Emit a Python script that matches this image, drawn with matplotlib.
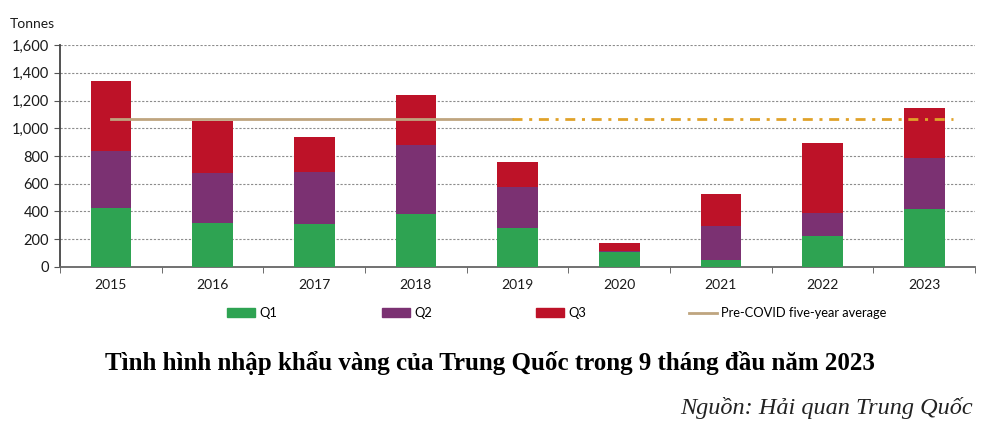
import numpy as np
import matplotlib.pyplot as plt
from matplotlib.patches import Patch
from matplotlib.lines import Line2D

# Du lieu doc tu hinh (tan)
years = ['2015', '2016', '2017', '2018', '2019', '2020', '2021', '2022', '2023']
q1 = [428, 320, 313, 380, 284, 108, 53, 226, 416]
q2 = [407, 356, 370, 496, 289, 7, 243, 161, 373]
q3 = [508, 373, 251, 361, 182, 61, 233, 510, 354]
avg_value = 1066
yticks = [0, 200, 400, 600, 800, 1000, 1200, 1400, 1600]

c_q1 = '#2ea352'
c_q2 = '#7b3172'
c_q3 = '#bd1228'
c_avg = '#bfa57f'
c_avg2 = '#e0a22a'

plt.rcParams['font.family'] = ['Lato', 'DejaVu Sans']

fig = plt.figure(figsize=(9.95, 4.23), dpi=100)
ax = fig.add_axes([0.0603, 0.3688, 0.9197, 0.5248])

x = np.arange(len(years))
b1 = np.array(q1)
b2 = b1 + np.array(q2)
ax.bar(x, q1, width=0.4, color=c_q1, zorder=3)
ax.bar(x, q2, width=0.4, bottom=b1, color=c_q2, zorder=3)
ax.bar(x, q3, width=0.4, bottom=b2, color=c_q3, zorder=3)

# duong trung binh truoc COVID
ax.plot([0, 3.95], [avg_value, avg_value], color=c_avg, lw=2, zorder=4)
ax.plot([3.95, 8.28], [avg_value, avg_value], color=c_avg2, lw=2,
        dashes=(3.6, 2.4, 1.1, 2.4), zorder=4)

ax.set_xlim(-0.5, 8.5)
ax.set_ylim(0, 1600)
ax.set_yticks(yticks)
ax.set_yticklabels([f'{v:,}' for v in yticks], fontsize=10.5, color='#1a1a1a')
ax.yaxis.grid(True, color='#8c8c8c', ls=(0, (2, 1.5)), lw=0.8, zorder=0)

ax.set_xticks(x)
ax.set_xticklabels(years, fontsize=10, color='#1a1a1a')
ax.set_xticks(np.arange(-0.5, 9, 1), minor=True)
ax.tick_params(axis='x', which='major', length=0, pad=9)
ax.tick_params(axis='x', which='minor', length=4, color='#555555', direction='out')
ax.tick_params(axis='y', length=4, color='#555555', direction='out', pad=4)

for s in ['top', 'right']:
    ax.spines[s].set_visible(False)
ax.spines['left'].set_color('#444444')
ax.spines['left'].set_linewidth(1.3)
ax.spines['bottom'].set_color('#666666')
ax.spines['bottom'].set_linewidth(1.3)

fig.text(0.01, 0.943, 'Tonnes', fontsize=10, color='#1a1a1a', ha='left', va='center')

# chu giai
handles = [Patch(color=c_q1), Patch(color=c_q2), Patch(color=c_q3),
           Line2D([], [], color=c_avg, lw=2)]
labels = ['Q1', 'Q2', 'Q3', 'Pre-COVID five-year average']
xs = [227, 382, 536, 689]
for h, lab, xp in zip(handles, labels, xs):
    fig.legend([h], [lab], loc='center left', bbox_to_anchor=(xp / 995, 1 - 313 / 423),
               frameon=False, fontsize=9.3, handlelength=2.2, handleheight=0.6,
               handletextpad=0.3, borderpad=0, borderaxespad=0)

fig.text(490 / 995, 1 - 363 / 423,
         'Tình hình nhập khẩu vàng của Trung Quốc trong 9 tháng đầu năm 2023',
         family='Liberation Serif', fontweight='bold', fontsize=18,
         ha='center', va='center', color='black')
fig.text(973 / 995, 1 - 408 / 423, 'Nguồn: Hải quan Trung Quốc',
         family='Liberation Serif', style='italic', fontsize=17.5,
         ha='right', va='center', color='#222222')

fig.savefig('out.png', dpi=100)
